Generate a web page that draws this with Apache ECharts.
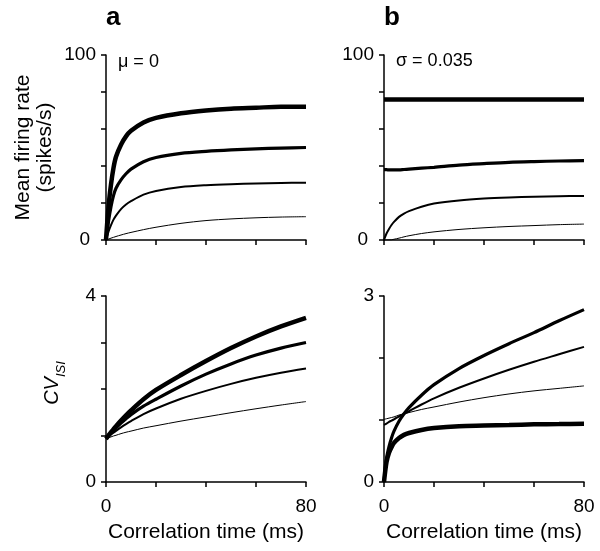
<!DOCTYPE html>
<html><head><meta charset="utf-8">
<script src="https://cdn.jsdelivr.net/npm/echarts@6/dist/echarts.min.js"></script>
<style>html,body{margin:0;padding:0;background:#fff}#c{width:600px;height:551px}</style>
</head><body><div id="c"></div>
<script>
// ---- data ----
const timeMs = [0, 1, 2, 3, 4, 6, 8, 10, 15, 20, 30, 40, 50, 60, 70, 80];

// panel a, mean firing rate (spikes/s), mu = 0; thickest -> thinnest
const rateA1 = [0, 18, 30, 39, 45, 51.5, 56, 59, 63.5, 66, 68.5, 70, 71, 71.5, 72, 72];
const rateA2 = [0, 10, 18, 24, 28, 32.5, 35.8, 38.3, 42.3, 44.6, 46.8, 47.9, 48.7, 49.3, 49.7, 50];
const rateA3 = [0, 4.5, 8, 11, 13.2, 16.7, 19.2, 21, 24.5, 26.5, 28.6, 29.6, 30.2, 30.6, 30.85, 31];
const rateA4 = [0, 0.5, 1.0, 1.45, 1.9, 2.7, 3.45, 4.1, 5.6, 6.9, 9.0, 10.5, 11.4, 12.0, 12.4, 12.6];

// panel b, mean firing rate (spikes/s), sigma = 0.035
const rateB1 = [76, 76, 76, 76, 76, 76, 76, 76, 76, 76, 76, 76, 76, 76, 76, 76];
const rateB2 = [38, 38, 37.9, 37.9, 37.9, 37.9, 38.1, 38.3, 38.8, 39.3, 40.5, 41.3, 42, 42.4, 42.7, 42.9];
const rateB3 = [0, 3.5, 6, 8.1, 9.8, 12.5, 14.3, 15.6, 18.0, 19.7, 21.4, 22.4, 23.0, 23.4, 23.65, 23.8];
const rateB4 = [0, 0, 0, 0.1, 0.4, 1.0, 1.7, 2.3, 3.5, 4.4, 5.7, 6.6, 7.3, 7.8, 8.3, 8.6];

// panel a, CV_ISI
const cvA1 = [0.93, 1.0, 1.07, 1.135, 1.2, 1.32, 1.435, 1.54, 1.78, 1.98, 2.3, 2.6, 2.88, 3.13, 3.345, 3.53];
const cvA2 = [0.93, 0.99, 1.05, 1.105, 1.16, 1.265, 1.36, 1.45, 1.63, 1.78, 2.065, 2.32, 2.54, 2.73, 2.88, 3.0];
const cvA3 = [0.93, 0.975, 1.02, 1.06, 1.1, 1.175, 1.245, 1.31, 1.46, 1.58, 1.79, 1.96, 2.11, 2.24, 2.35, 2.44];
const cvA4 = [0.93, 0.95, 0.97, 0.99, 1.005, 1.04, 1.07, 1.095, 1.16, 1.21, 1.31, 1.4, 1.49, 1.575, 1.655, 1.73];

// panel b, CV_ISI
const cvB1 = [0, 0.38, 0.57, 0.71, 0.82, 0.98, 1.1, 1.2, 1.4, 1.57, 1.83, 2.04, 2.23, 2.41, 2.6, 2.78];
const cvB2 = [0.92, 0.94, 0.97, 0.99, 1.01, 1.06, 1.1, 1.14, 1.25, 1.35, 1.52, 1.67, 1.81, 1.94, 2.06, 2.18];
const cvB3 = [1.01, 1.02, 1.03, 1.04, 1.05, 1.08, 1.1, 1.12, 1.17, 1.21, 1.29, 1.36, 1.42, 1.47, 1.51, 1.55];
const cvB4 = [0, 0.32, 0.47, 0.56, 0.63, 0.71, 0.76, 0.79, 0.84, 0.87, 0.9, 0.91, 0.92, 0.93, 0.935, 0.94];

const panelLabels = ['a', 'b'];
const paramLabels = ['\u03bc = 0', '\u03c3 = 0.035'];
const xTickLabels = ['0', '80'];
const rateTickLabels = ['0', '100'];
const cvATickLabels = ['0', '4'];
const cvBTickLabels = ['0', '3'];
const xName = 'Correlation time (ms)';
const rateName = 'Mean firing rate\n(spikes/s)';

// ---- chart ----
const FONT = "'Liberation Sans', Arial, Helvetica, sans-serif";
const widths = [4.5, 3.2, 2, 1];
const pairs = arr => timeMs.map((t, i) => [t, arr[i]]);

function xAx(gi, showLabels) {
  return {
    gridIndex: gi, type: 'value', min: 0, max: 80, interval: 20,
    axisLine: { lineStyle: { color: '#000', width: 1.5 } },
    axisTick: { length: 5, lineStyle: { color: '#000', width: 1.5 } },
    splitLine: { show: false },
    axisLabel: {
      show: showLabels, margin: 15, color: '#000', fontSize: 19, fontFamily: FONT,
      formatter: v => (xTickLabels.includes(String(v)) ? String(v) : '')
    },
    name: showLabels ? xName : '', nameLocation: 'middle', nameGap: 40,
    nameTextStyle: { color: '#000', fontSize: 21, fontFamily: FONT }
  };
}
function yAx(gi, max, ticks, name, isRate) {
  return {
    gridIndex: gi, type: 'value', min: 0, max: max, interval: max === 100 ? 20 : 1,
    axisLine: { show: true, lineStyle: { color: '#000', width: 1.5 } },
    axisTick: { show: true, length: 5, lineStyle: { color: '#000', width: 1.5 } },
    splitLine: { show: false },
    axisLabel: {
      margin: 10, color: '#000', fontSize: 19, fontFamily: FONT,
      formatter: v => {
        const s = String(v);
        if (!ticks.includes(s)) return '';
        return (isRate && v === 0) ? '{z|' + s + '}' : s;
      },
      rich: { z: { fontSize: 19, fontFamily: FONT, color: '#000', padding: [0, 6, 0, 0] } }
    },
    name: name || '', nameLocation: 'middle', nameGap: 50, nameRotate: 90,
    nameTextStyle: { color: '#000', fontSize: 21, lineHeight: 22, fontFamily: FONT }
  };
}
function ser(gi, arr, w) {
  return {
    type: 'line', xAxisIndex: gi, yAxisIndex: gi, data: pairs(arr),
    smooth: 0.3, showSymbol: false, symbol: 'none',
    lineStyle: { color: '#000', width: w }, silent: true, z: 3
  };
}

const chart = echarts.init(document.getElementById('c'), null, { renderer: 'canvas' });
chart.setOption({
  backgroundColor: '#fff',
  animation: false,
  grid: [
    { left: 106, top: 55, width: 200, height: 185 },
    { left: 384, top: 55, width: 200, height: 185 },
    { left: 106, top: 296, width: 200, height: 186 },
    { left: 384, top: 296, width: 200, height: 186 }
  ],
  xAxis: [xAx(0, false), xAx(1, false), xAx(2, true), xAx(3, true)],
  yAxis: [
    yAx(0, 100, rateTickLabels, rateName, true),
    yAx(1, 100, rateTickLabels, '', true),
    yAx(2, 4, cvATickLabels),
    yAx(3, 3, cvBTickLabels)
  ],
  series: [
    ser(0, rateA1, widths[0]), ser(0, rateA2, widths[1]), ser(0, rateA3, widths[2]), ser(0, rateA4, widths[3]),
    ser(1, rateB1, widths[0]), ser(1, rateB2, widths[1]), ser(1, rateB3, widths[2]), ser(1, rateB4, widths[3]),
    ser(2, cvA1, widths[0]), ser(2, cvA2, widths[1]), ser(2, cvA3, widths[2]), ser(2, cvA4, widths[3]),
    ser(3, cvB1, widths[1]), ser(3, cvB2, widths[2]), ser(3, cvB3, widths[3]), ser(3, cvB4, widths[0])
  ],
  graphic: [
    { type: 'text', left: 106, top: 5, style: { text: panelLabels[0], font: 'bold 26px ' + FONT, fill: '#000' } },
    { type: 'text', left: 384, top: 5, style: { text: panelLabels[1], font: 'bold 26px ' + FONT, fill: '#000' } },
    { type: 'text', left: 118, top: 53, style: { text: paramLabels[0], font: '18px ' + FONT, fill: '#000' } },
    { type: 'text', left: 396, top: 52, style: { text: paramLabels[1], font: '18px ' + FONT, fill: '#000' } },
    {
      type: 'text', x: 64, y: 383, rotation: Math.PI / 2,
      style: {
        text: '{a|CV}{b|ISI}', align: 'center', verticalAlign: 'bottom',
        rich: {
          a: { fontSize: 20, fontStyle: 'italic', fontFamily: FONT, fill: '#000', lineHeight: 24 },
          b: { fontSize: 13, fontStyle: 'italic', fontFamily: FONT, fill: '#000', lineHeight: 24, padding: [18, 0, 0, 0] }
        }
      }
    }
  ]
});
</script>
</body></html>
